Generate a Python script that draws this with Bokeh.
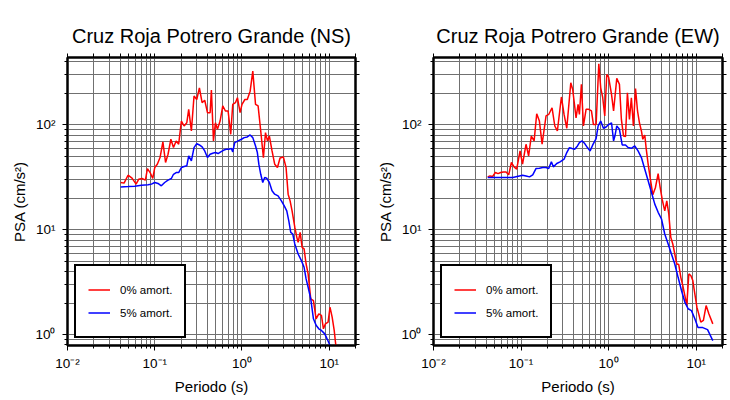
from bokeh.plotting import figure
from bokeh.layouts import row
from bokeh.models import (LogAxis, FixedTicker, CustomJSTickFormatter, Legend, LegendItem, Range1d)
from bokeh.embed import file_html
from bokeh.resources import INLINE

FONT = "Liberation Sans"

titles = ["Cruz Roja Potrero Grande (NS)", "Cruz Roja Potrero Grande (EW)"]
x_label = "Periodo (s)"
y_label = "PSA (cm/s²)"
legend_labels = ["0% amort.", "5% amort."]
x_major = [0.01, 0.1, 1, 10]
y_major = [1, 10, 100]

ns_T_0 = [0.0407,0.0445,0.0494,0.0549,0.0611,0.0656,0.0716,0.0782,0.0824,0.0885,0.0949,0.100,0.107,0.115,0.124,0.133,0.142,0.153,0.164,0.176,0.188,0.202,0.217,0.233,0.245,0.263,0.282,0.303,0.325,0.349,0.374,0.402,0.431,0.446,0.471,0.496,0.523,0.561,0.602,0.646,0.693,0.743,0.783,0.841,0.887,0.951,1.00,1.08,1.15,1.24,1.33,1.43,1.53,1.64,1.76,1.86,1.96,2.06,2.21,2.37,2.55,2.73,2.98,3.20,3.38,3.56,3.75,4.03,4.25,4.40,4.64,4.89,5.15,5.43,5.73,6.14,6.59,7.07,7.59,8.14,8.58,9.04,9.70,10.2,10.8,11.4,11.9,12.5]
ns_psa_0 = [28.3,27.9,33.2,31.1,27.3,30.4,30.9,29.8,38.4,35.2,30.9,39.3,42.3,48.9,68.9,43.9,52.6,73.1,60.9,70.5,65.5,109,97.8,105,141,87.7,189,175,226,163,172,131,131,215,70.5,105,91,109,152,136,136,81.5,157,163,182,131,157,175,175,210,326,157,152,87.7,48.9,84.5,70.5,78.5,56.6,42.3,39.3,48.5,49.6,39.3,21.9,18.9,15.2,10.6,8.49,7.61,9.47,6.82,6.58,4.73,3.80,2.20,2.12,1.42,1.58,1.53,1.14,1.27,1.32,1.83,1.47,1.10,0.79,0.65]

ns_T_5 = [0.0407,0.0494,0.0590,0.0704,0.0839,0.0916,0.100,0.109,0.119,0.130,0.142,0.155,0.164,0.176,0.188,0.202,0.217,0.233,0.245,0.263,0.282,0.303,0.325,0.349,0.374,0.402,0.431,0.462,0.496,0.532,0.571,0.613,0.657,0.705,0.756,0.783,0.826,0.902,0.986,1.06,1.15,1.24,1.33,1.43,1.50,1.56,1.64,1.73,1.82,1.92,2.06,2.21,2.37,2.59,2.83,3.04,3.26,3.44,3.62,3.82,4.03,4.40,4.80,5.15,5.43,5.73,6.14,6.59,7.07,7.59,8.14,8.89,9.53,10.2,11.0]
ns_psa_5 = [25.7,25.9,26.1,26.7,26.9,27.3,28.3,27.7,26.3,28.3,29.8,30.9,33.9,35.2,35.2,39.3,40.2,40.8,50.7,45.5,60.9,66.5,64.5,61.8,56.6,48.9,52.6,53.8,54.6,53.4,55.4,57.4,58.7,58.7,59.6,55.4,67.9,70.5,73.1,75.8,76.9,80.3,75.8,63.1,54.6,42.3,33.9,28.3,31.6,31.1,28.3,23.6,21.9,21.1,18.9,17.0,15.2,12.2,9.47,9.13,7.34,5.89,5.09,4.40,3.41,2.84,2.20,1.42,1.23,1.14,1.10,1.02,0.90,0.79,0.70]

ew_T_0 = [0.0416,0.0442,0.0474,0.0509,0.0546,0.0586,0.0628,0.0674,0.0723,0.0776,0.0832,0.0892,0.0974,0.104,0.114,0.122,0.131,0.141,0.151,0.162,0.174,0.193,0.207,0.226,0.243,0.260,0.289,0.310,0.333,0.370,0.389,0.425,0.448,0.464,0.489,0.516,0.553,0.593,0.637,0.671,0.720,0.773,0.813,0.857,0.904,0.953,1.00,1.08,1.14,1.24,1.33,1.40,1.48,1.56,1.64,1.73,1.82,1.92,2.03,2.14,2.25,2.37,2.46,2.59,2.68,2.83,2.98,3.20,3.43,3.68,3.88,4.09,4.38,4.62,4.87,5.13,5.41,5.70,6.01,6.33,6.68,7.04,7.42,7.82,8.25,8.69,9.16,9.66,10.2,10.7,11.3,12.1,13.0,14.0,15.5]
ew_psa_0 = [32.0,32.7,32.3,35.2,34.4,35.2,35.7,35.7,33.5,43.9,39.9,37.9,56.6,42.3,65.5,50.7,78.5,70.5,128,109,65.5,122,126,146,97.8,87.7,185,126,93,253,218,117,157,126,244,97.8,141,141,136,101,101,383,226,182,122,303,286,196,136,278,244,113,78.5,77.4,203,113,182,97.8,223,136,105,87.7,73.1,80.3,60.9,42.3,31.6,21.6,25.4,34.4,25.4,19.6,15.2,18.9,14.2,8.49,7.34,5.89,4.73,4.67,3.53,2.94,2.37,1.90,3.80,3.67,3.29,2.45,1.83,1.58,1.32,1.37,1.90,1.58,1.27]

ew_T_5 = [0.0416,0.0565,0.0804,0.0957,0.104,0.114,0.125,0.136,0.148,0.162,0.177,0.193,0.207,0.222,0.234,0.256,0.279,0.310,0.333,0.357,0.383,0.410,0.441,0.464,0.498,0.534,0.573,0.615,0.659,0.720,0.759,0.813,0.873,0.936,1.00,1.08,1.14,1.18,1.24,1.33,1.43,1.56,1.67,1.82,1.99,2.17,2.37,2.59,2.83,3.09,3.37,3.68,4.02,4.38,4.79,5.22,5.70,6.22,6.80,7.42,8.10,8.84,9.66,10.5,11.9,13.5,15.5]
ew_psa_5 = [31.6,31.6,31.6,32.7,33.2,32.7,32.0,33.5,38.4,38.7,39.3,39.3,38.4,44.5,39.9,42.9,44.5,47.2,54.6,60.9,59.6,58.7,63.1,67.9,70.5,66.5,60.9,56.6,64.5,74.1,97.8,109,93,95.7,101,105,70.5,78.5,97.8,91,64.5,64.5,60.9,60.0,63.1,56.6,48.9,37.9,29.4,22.7,17.6,14.7,12.7,9.13,7.34,5.89,4.73,3.53,2.64,2.05,1.77,1.70,1.42,1.17,1.17,1.12,0.88]

x_minor = [m * d for d in [0.01, 0.1, 1, 10] for m in range(2, 10)]
y_minor = [m * d for d in [0.1, 1, 10, 100] for m in range(2, 10)]

sup_js = """
const sup = {"-":"\u207b","0":"\u2070","1":"\u00b9","2":"\u00b2","3":"\u00b3","4":"\u2074","5":"\u2075","6":"\u2076","7":"\u2077","8":"\u2078","9":"\u2079"};
const e = Math.round(Math.log10(tick));
return "10" + String(e).split("").map(c => sup[c]).join("");
"""


def style_axis(ax):
    ax.axis_line_color = "black"
    ax.axis_line_width = 2
    ax.major_tick_line_color = "black"
    ax.minor_tick_line_color = "black"
    ax.major_tick_out = 5
    ax.major_tick_in = 0
    ax.minor_tick_out = 3
    ax.minor_tick_in = 0


def make_panel(title, T0, P0, T5, P5, bl, br, fw):
    p = figure(frame_width=fw, frame_height=288, x_axis_type="log", y_axis_type="log",
               x_range=Range1d(0.01, 20), y_range=Range1d(0.79, 440),
               output_backend="svg", toolbar_location=None,
               min_border_left=bl, min_border_right=br, min_border_top=57, min_border_bottom=49)
    p.title.text = title
    p.title.align = "center"
    p.title.text_font = FONT
    p.title.text_font_size = "20px"
    p.title.text_font_style = "normal"
    p.title.text_color = "black"
    p.title.standoff = 13

    xt = FixedTicker(ticks=x_major, minor_ticks=x_minor)
    yt = FixedTicker(ticks=y_major, minor_ticks=y_minor)
    fmt = CustomJSTickFormatter(code=sup_js)

    bottom = p.below[0]
    left = p.left[0]
    bottom.ticker = xt
    left.ticker = yt
    for ax in (bottom, left):
        style_axis(ax)
        ax.formatter = fmt
        ax.major_label_text_font = FONT
        ax.major_label_text_font_size = "13.5px"
        ax.major_label_text_color = "black"
        ax.axis_label_text_font = FONT
        ax.axis_label_text_font_size = "15px"
        ax.axis_label_text_font_style = "normal"
        ax.axis_label_text_color = "black"
    bottom.major_label_standoff = 5
    bottom.axis_label_standoff = 4
    left.major_label_standoff = 7
    left.axis_label_standoff = 4
    bottom.axis_label = x_label
    left.axis_label = y_label

    # tick-only axes on the top and right edges (no labels)
    top = LogAxis(ticker=FixedTicker(ticks=[], minor_ticks=x_major + x_minor))
    right = LogAxis(ticker=FixedTicker(ticks=[], minor_ticks=y_major + y_minor))
    for ax in (top, right):
        style_axis(ax)
        ax.minor_tick_out = 4
    p.add_layout(top, "above")
    p.add_layout(right, "right")

    p.xgrid.ticker = xt
    p.ygrid.ticker = yt
    for g in (p.xgrid, p.ygrid):
        g.grid_line_color = "#707070"
        g.grid_line_width = 1
        g.minor_grid_line_color = "#707070"
        g.minor_grid_line_width = 1

    p.outline_line_color = "black"
    p.outline_line_width = 2
    p.background_fill_color = "white"

    r0 = p.line(T0, P0, line_color="#ff0000", line_width=1.5)
    r5 = p.line(T5, P5, line_color="#0000ff", line_width=1.5)

    leg = Legend(items=[LegendItem(label=legend_labels[0], renderers=[r0]),
                        LegendItem(label=legend_labels[1], renderers=[r5])],
                 location=(7, 7))
    leg.label_text_font = FONT
    leg.label_text_font_size = "11.5px"
    leg.label_text_color = "black"
    leg.glyph_width = 22
    leg.glyph_height = 23
    leg.label_height = 23
    leg.label_standoff = 10
    leg.spacing = 0
    leg.padding = 12
    leg.margin = 0
    leg.border_line_color = "black"
    leg.border_line_alpha = 1
    leg.border_line_width = 2
    leg.background_fill_color = "white"
    leg.background_fill_alpha = 1
    p.add_layout(leg)
    return p


p1 = make_panel(titles[0], ns_T_0, ns_psa_0, ns_T_5, ns_psa_5, 67, 10, 288)
p2 = make_panel(titles[1], ew_T_0, ew_psa_0, ew_T_5, ew_psa_5, 68, 7, 289)
layout = row(p1, p2)

open("out.html", "w").write(file_html(layout, INLINE))
